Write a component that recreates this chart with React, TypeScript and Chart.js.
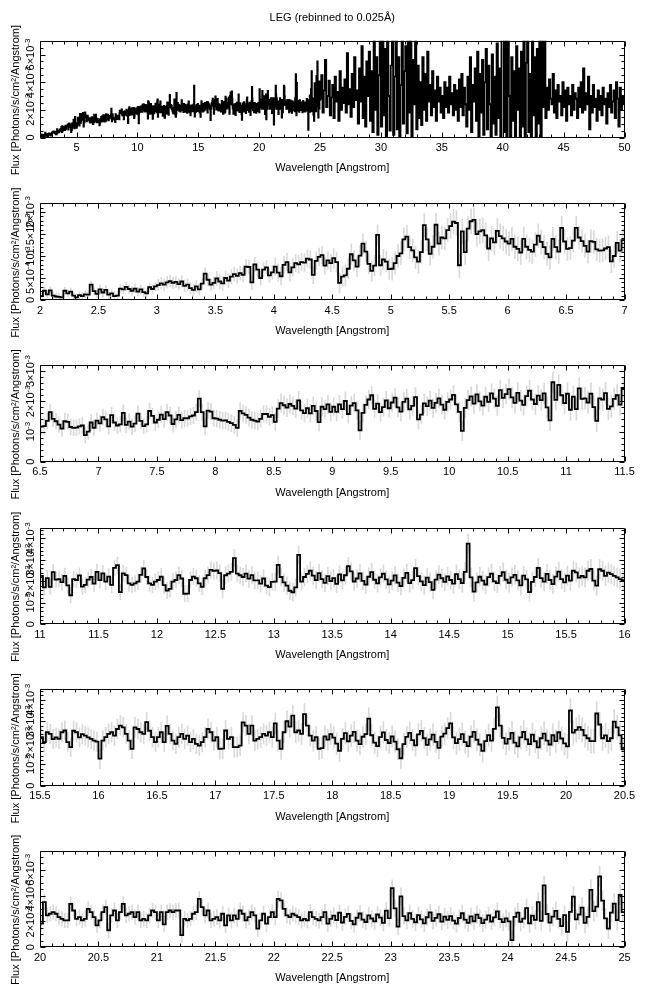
import React, { useEffect, useRef } from "react";
import { Chart, registerables } from "chart.js";
Chart.register(...registerables);

const TITLE = "LEG (rebinned to 0.025Å)";
const X_TITLE = "Wavelength [Angstrom]";
const Y_TITLE = "Flux [Photons/s/cm²/Angstrom]";
const FONT = '"Liberation Sans", Arial, Helvetica, sans-serif';

// Flux in units of 1e-4 photons/s/cm^2/Angstrom, 0.025 Angstrom bins starting at 2.0
const BIN_WIDTH = 0.025;
const FLUX_START = 2.0;
const FLUX_UNIT = 1e-4;

const FLUX_2_7 = [
  0.9, 2.1, 1.3, 2.2, 1.0, 0.8, 0.7, 0.6, 2.1, 1.5, 1.9, 1.0, 0.6, 1.1, 0.9, 1.3, 1.2, 3.5, 2.0, 1.4,
  2.4, 1.7, 2.3, 1.2, 1.5, 0.9, 1.0, 2.6, 2.4, 3.0, 2.5, 2.1, 2.6, 1.9, 2.4, 1.8, 1.5, 2.9, 2.5, 3.1,
  3.4, 3.8, 3.5, 4.0, 4.3, 3.9, 4.1, 3.6, 4.2, 3.2, 3.5, 2.7, 2.3, 3.1, 2.4, 3.7, 6.0, 4.6, 3.5, 3.9,
  4.9, 4.2, 3.8, 5.0, 4.4, 5.3, 5.9, 5.5, 6.1, 5.7, 7.6, 7.5, 4.0, 8.1, 6.9, 5.0, 6.9, 7.4, 5.6, 6.3,
  7.6, 6.2, 5.4, 8.0, 8.6, 6.3, 7.4, 8.4, 8.1, 8.6, 8.5, 9.4, 9.2, 5.7, 8.9, 9.8, 10.2, 7.8, 9.0, 8.4,
  9.5, 8.6, 3.9, 5.3, 5.6, 7.1, 10.4, 9.0, 7.6, 10.1, 12.8, 11.0, 8.2, 6.6, 7.8, 14.8, 7.9, 9.2, 8.7, 7.0,
  7.1, 8.4, 10.0, 10.6, 13.8, 14.4, 12.0, 11.3, 9.7, 8.7, 10.9, 17.0, 13.8, 10.5, 12.1, 17.1, 12.8, 14.2, 14.0, 15.9,
  16.8, 17.8, 17.5, 7.9, 15.6, 10.9, 16.2, 17.9, 18.2, 15.0, 15.6, 15.9, 14.7, 11.7, 14.0, 13.1, 15.7, 14.5, 14.0, 13.3,
  12.8, 13.9, 12.1, 11.6, 10.8, 13.9, 12.1, 11.4, 11.0, 12.6, 14.6, 13.2, 12.0, 10.5, 9.7, 13.9, 12.0, 11.0, 16.4, 13.3,
  11.6, 11.8, 13.5, 16.4, 14.2, 13.4, 12.3, 11.0, 13.4, 13.2, 11.5, 11.2, 11.3, 11.7, 12.0, 8.8, 10.0, 13.0, 11.2, 13.6,
];
const FLUX_7_12 = [
  12.7, 14.8, 14.0, 11.7, 15.4, 13.0, 12.0, 12.4, 16.2, 12.2, 13.3, 11.6, 12.6, 15.9, 13.5, 11.8, 12.4, 16.8, 15.2, 13.0,
  13.9, 15.6, 14.1, 16.4, 15.3, 12.5, 14.0, 15.5, 13.8, 14.4, 14.4, 15.0, 15.3, 16.4, 20.9, 16.4, 11.7, 16.9, 16.6, 14.4,
  14.3, 13.9, 13.6, 13.7, 13.2, 12.8, 12.2, 11.2, 16.8, 16.0, 15.5, 14.6, 13.9, 13.6, 13.3, 14.2, 15.8, 15.8, 14.9, 15.4,
  13.2, 17.6, 19.4, 18.7, 17.9, 19.1, 18.5, 17.6, 20.3, 17.0, 16.1, 17.7, 16.0, 18.5, 16.8, 13.1, 18.2, 17.4, 19.0, 16.5,
  18.2, 16.5, 19.0, 17.4, 20.1, 15.8, 18.6, 19.4, 17.0, 10.4, 16.2, 18.8, 20.6, 22.0, 17.5, 19.2, 16.4, 18.1, 20.3, 17.7,
  19.6, 21.2, 18.0, 16.6, 19.8, 20.9, 17.3, 18.5, 21.4, 14.0, 15.6, 19.3, 18.4, 20.2, 17.8, 19.5, 21.0, 18.9, 17.2, 19.8,
  20.6, 22.1, 19.0, 16.5, 10.2, 17.8, 20.4, 21.6, 19.2, 22.3, 20.0, 18.6, 21.5, 19.8, 22.6, 20.9, 18.5, 23.7, 21.1, 22.4,
  24.0, 21.3, 19.5, 22.8, 20.2, 18.8, 21.7, 23.5, 20.6, 19.1, 21.9, 20.4, 22.6, 18.0, 13.7, 26.3, 20.5, 25.4, 22.0, 19.4,
  22.5, 17.2, 21.5, 17.4, 24.3, 20.8, 21.0, 19.6, 22.5, 18.1, 13.5, 21.0, 20.6, 22.7, 17.5, 18.3, 20.8, 22.0, 18.9, 24.4,
  20.5, 23.7, 19.8, 22.2, 18.3, 26.2, 27.5, 15.0, 23.7, 22.9, 19.0, 18.3, 19.0, 19.8, 23.0, 26.0, 22.0, 19.0, 18.3, 19.8,
];
const FLUX_12_17 = [
  20.6, 22.2, 18.2, 15.7, 16.5, 19.8, 20.6, 22.9, 21.3, 14.2, 14.3, 20.6, 22.2, 21.4, 19.0, 17.4, 21.4, 22.9, 25.3, 24.8,
  25.0, 23.8, 16.5, 22.8, 23.6, 24.4, 30.8, 23.6, 22.8, 22.0, 23.6, 21.2, 22.9, 20.4, 20.4, 18.9, 21.3, 18.0, 17.3, 19.7,
  19.8, 27.6, 22.0, 19.5, 18.0, 15.6, 14.9, 17.2, 32.3, 19.8, 22.0, 23.4, 24.9, 22.6, 20.5, 23.8, 21.0, 19.3, 22.4, 20.1,
  21.5, 18.8, 23.2, 20.4, 22.8, 27.0, 24.6, 19.9, 21.3, 23.7, 20.2, 18.4, 22.1, 24.3, 20.7, 19.0, 21.8, 23.5, 20.9, 18.6,
  20.3, 22.7, 19.4, 17.8, 21.6, 23.9, 19.1, 20.5, 26.1, 22.4, 20.0, 18.2, 21.7, 19.6, 16.0, 20.8, 23.1, 21.4, 19.7, 22.3,
  20.6, 18.9, 23.3, 21.0, 19.2, 24.4, 37.5, 21.8, 15.2, 19.5, 22.1, 20.3, 18.5, 21.9, 23.6, 20.0, 19.1, 22.5, 24.2, 20.7,
  19.3, 21.8, 23.0, 20.4, 18.1, 22.6, 20.9, 15.0, 19.7, 22.0, 26.2, 21.5, 19.8, 23.4, 20.6, 18.7, 22.2, 24.5, 21.0, 19.5,
  22.6, 20.3, 24.9, 24.1, 21.7, 22.5, 21.8, 24.9, 25.7, 20.3, 18.0, 25.6, 24.9, 22.5, 24.0, 23.3, 22.5, 21.8, 21.0, 20.5,
  12.6, 21.0, 22.6, 24.1, 24.9, 23.3, 26.4, 28.0, 27.2, 24.1, 21.0, 17.2, 27.2, 26.4, 24.9, 24.1, 29.6, 25.6, 22.6, 20.3,
  22.6, 24.9, 20.3, 27.9, 24.1, 21.0, 19.5, 22.6, 24.1, 21.8, 23.3, 20.3, 21.8, 19.5, 18.7, 20.3, 22.6, 26.4, 24.9, 21.0,
];
const FLUX_17_22 = [
  22.6, 17.2, 17.3, 25.7, 21.8, 22.6, 18.0, 18.0, 18.7, 29.5, 28.0, 24.1, 28.0, 21.0, 21.8, 22.6, 24.1, 23.3, 24.9, 22.6,
  29.0, 21.0, 17.2, 24.9, 30.0, 27.5, 32.6, 24.9, 25.7, 24.1, 33.3, 28.0, 23.3, 21.0, 22.6, 17.2, 17.5, 23.0, 21.5, 24.0,
  22.4, 19.6, 16.3, 21.8, 24.5, 20.7, 23.3, 25.1, 21.0, 19.4, 22.8, 24.0, 31.2, 23.5, 20.1, 18.4, 22.6, 24.8, 21.3, 19.9,
  23.0, 20.5, 17.0, 12.8, 19.4, 22.7, 24.6, 21.2, 18.8, 23.9, 25.5, 22.1, 19.0, 21.6, 23.8, 20.4, 17.6, 22.9, 24.3, 26.8,
  29.0, 22.5, 19.8, 21.7, 24.0, 20.3, 18.5, 22.8, 25.1, 21.4, 19.2, 16.2, 20.8, 23.6, 21.0, 26.5, 36.5, 28.0, 22.3, 19.6,
  21.8, 24.6, 20.1, 18.3, 22.5, 25.0, 21.6, 19.4, 23.8, 20.7, 17.9, 22.1, 24.3, 21.0, 19.2, 23.5, 20.8, 24.9, 22.0, 19.7,
  18.3, 35.0, 24.7, 26.0, 27.3, 26.0, 23.4, 22.1, 20.8, 20.8, 33.6, 28.5, 22.1, 23.4, 20.8, 22.1, 29.8, 27.2, 23.4, 17.0,
  20.8, 27.2, 31.1, 13.2, 24.7, 28.5, 20.8, 27.2, 33.6, 24.7, 26.0, 27.2, 23.4, 27.2, 20.8, 22.1, 20.8, 24.7, 28.5, 27.2,
  20.8, 27.2, 17.7, 27.2, 28.5, 27.2, 28.5, 28.5, 9.4, 22.1, 20.8, 22.1, 26.0, 27.2, 37.5, 31.1, 24.7, 28.5, 20.8, 22.1,
  23.4, 20.8, 26.0, 17.0, 24.7, 20.8, 24.7, 22.1, 28.5, 26.0, 20.8, 23.4, 27.2, 24.7, 14.4, 20.8, 26.0, 18.3, 23.4, 27.2,
];
const FLUX_22_25 = [
  23.4, 37.5, 36.4, 29.8, 24.7, 23.4, 26.0, 24.7, 23.4, 20.8, 22.1, 20.8, 27.2, 23.4, 22.1, 20.8, 23.4, 27.2, 18.3, 22.0,
  24.5, 21.0, 26.8, 19.2, 23.6, 25.9, 20.4, 17.8, 22.9, 26.2, 21.5, 19.6, 24.8, 22.3, 20.1, 25.4, 23.0, 18.9, 28.4, 22.6,
  45.8, 30.2, 16.0, 39.5, 24.2, 20.8, 26.5, 22.1, 19.4, 24.9, 21.7, 18.6, 23.3, 27.0, 20.5, 22.8, 25.6, 19.9, 23.7, 21.2,
  24.1, 20.6, 18.3, 22.7, 26.4, 21.5, 19.0, 23.9, 20.2, 25.3, 22.6, 18.8, 21.4, 24.7, 20.0, 23.2, 27.8, 21.9, 19.5, 22.4,
  20.1, 5.6, 23.5, 26.9, 19.8, 22.2, 30.4, 18.5, 24.6, 21.3, 35.0, 20.4, 48.0, 25.8, 19.1, 23.7, 28.2, 22.0, 16.4, 24.9,
  12.0, 27.5, 39.2, 21.6, 25.4, 30.8, 19.0, 23.6, 44.5, 28.1, 31.5, 55.0, 36.2, 22.4, 14.5, 26.8, 33.9, 21.0, 40.6, 27.3,
];

// 1-sigma errors (1e-4 units), one estimate per 0.5 Angstrom from 2.0 to 25.0
const ERR_STEP = 0.5;
const ERR_BY_HALF_ANGSTROM = [
  0.8, 1.0, 1.3, 1.6, 2.0, 2.3, 2.6, 2.8, 2.7, 2.6,
  2.6, 2.7, 2.8, 3.0, 3.0, 3.1, 3.2, 3.4, 3.6, 3.7,
  3.8, 4.0, 4.1, 4.1, 4.2, 4.4, 4.4, 4.5, 4.6, 4.6,
  4.7, 4.9, 5.0, 5.0, 5.2, 5.3, 5.6, 5.7, 5.8, 5.9,
  6.0, 6.2, 6.5, 6.6, 7.2, 7.8,
];

// Overview panel beyond 25 Angstrom (1e-4 units, read at 0.1 Angstrom resolution)
const WIDE_START = 25.0;
const WIDE_BIN = 0.1;
const FLUX_WIDE_25_50 = [
  28, 45, 18, 34, 56, 22, 30, 41, 16, 29,
  38, 14, 44, 26, 33, 12, 48, 20, 36, 25,
  42, 18, 61, 24, 35, 15, 46, 22, 58, 27,
  34, 10, 50, 26, 66, 14, 44, 8, 55, 30,
  62, 12, 48, 4, 74, 20, 58, 2, 45, 72,
  8, 78, 16, 64, 0, 80, 30, 5, 52, 76,
  2, 44, 70, 6, 58, 0, 38, 75, 10, 48,
  66, 3, 80, 18, 74, 0, 56, 24, 70, 6,
  52, 14, 40, 9, 58, 20, 46, 12, 62, 26,
  38, 16, 48, 22, 34, 12, 44, 26, 36, 18,
  30, 14, 40, 22, 36, 18, 44, 24, 32, 16,
  38, 20, 34, 12, 42, 22, 46, 16, 36, 24,
  8, 44, 20, 58, 4, 38, 26, 50, 12, 62,
  0, 46, 18, 56, 2, 40, 64, 6, 52, 24,
  0, 60, 10, 44, 2, 68, 14, 50, 0, 74,
  80, 4, 76, 0, 72, 30, 0, 58, 12, 48,
  0, 66, 20, 50, 0, 62, 8, 78, 0, 54,
  74, 4, 46, 0, 72, 16, 58, 0, 64, 10,
  76, 0, 80, 22, 70, 14, 36, 20, 42, 28,
  24, 46, 18, 34, 14, 38, 26, 30, 16, 40,
  22, 34, 12, 36, 24, 30, 16, 38, 20, 32,
  28, 14, 36, 22, 40, 18, 50, 20, 32, 24,
  44, 6, 30, 18, 38, 22, 28, 12, 34, 20,
  30, 16, 36, 24, 28, 10, 32, 22, 38, 18,
  26, 34, 14, 40, 28, 8, 36, 20, 30, 24,
];

// Panel axes
const PANEL_X_MIN = [2, 2, 6.5, 11, 15.5, 20];
const PANEL_X_MAX = [50, 7, 11.5, 16, 20.5, 25];
const PANEL_X_STEP = [5, 0.5, 0.5, 0.5, 0.5, 0.5];
const PANEL_X_MINOR = [5, 5, 5, 5, 5, 5];
const PANEL_Y_MAX = [7e-3, 2.2e-3, 3.2e-3, 4.5e-3, 4.5e-3, 7.5e-3];
const PANEL_Y_STEP = [2e-3, 5e-4, 1e-3, 1e-3, 1e-3, 2e-3];
const PANEL_Y_MINOR = [4, 5, 5, 5, 5, 4];

// Layout
const CANVAS_W = 646;
const PLOT_LEFT = 40;
const PLOT_RIGHT = 624.5;
const PLOT_H = 96.8;
const PLOT_TOPS = [40.7, 203.2, 365, 527.5, 689, 850.5];
const X_AXIS_H = 40;

const FLUX = [...FLUX_2_7, ...FLUX_7_12, ...FLUX_12_17, ...FLUX_17_22, ...FLUX_22_25];

const edge = (i: number) => Math.round((FLUX_START + i * BIN_WIDTH) * 1000) / 1000;

function linePoints(idx: number) {
  const xmin = PANEL_X_MIN[idx];
  const xmax = PANEL_X_MAX[idx];
  const pts: { x: number; y: number }[] = [];
  let last = 0;
  for (let i = 0; i < FLUX.length; i++) {
    const x = edge(i);
    if (x < xmin - 1e-9 || x > xmax - BIN_WIDTH + 1e-9) continue;
    pts.push({ x, y: FLUX[i] * FLUX_UNIT });
    last = FLUX[i];
  }
  if (idx === 0) {
    for (let j = 0; j < FLUX_WIDE_25_50.length; j++) {
      const x = Math.round((WIDE_START + j * WIDE_BIN) * 1000) / 1000;
      pts.push({ x, y: FLUX_WIDE_25_50[j] * FLUX_UNIT });
      last = FLUX_WIDE_25_50[j];
    }
  }
  pts.push({ x: xmax, y: last * FLUX_UNIT });
  return pts;
}

function errorPoints(idx: number) {
  const xmin = PANEL_X_MIN[idx];
  const xmax = PANEL_X_MAX[idx];
  const pts: { x: number; y: number[] }[] = [];
  for (let i = 0; i < FLUX.length; i++) {
    const x = edge(i);
    if (x < xmin - 1e-9 || x > xmax - BIN_WIDTH + 1e-9) continue;
    const e = ERR_BY_HALF_ANGSTROM[Math.min(ERR_BY_HALF_ANGSTROM.length - 1, Math.floor((x - FLUX_START) / ERR_STEP + 1e-9))];
    pts.push({ x: x + BIN_WIDTH / 2, y: [(FLUX[i] - e) * FLUX_UNIT, (FLUX[i] + e) * FLUX_UNIT] });
  }
  return pts;
}

function fmtX(v: number) {
  return String(+v.toFixed(3));
}

function sciParts(v: number): [string, string] {
  if (Math.abs(v) < 1e-12) return ["0", ""];
  const e = Math.floor(Math.log10(v) + 1e-9);
  const m = +(v / Math.pow(10, e)).toFixed(2);
  const base = m === 1 ? "10" : `${m}×10`;
  return [base, String(e)];
}

function drawRotated(ctx: CanvasRenderingContext2D, cx: number, cy: number, base: string, exp: string, size: number) {
  ctx.save();
  ctx.translate(cx, cy);
  ctx.rotate(-Math.PI / 2);
  ctx.textAlign = "left";
  ctx.textBaseline = "alphabetic";
  ctx.font = `${size}px ${FONT}`;
  const wb = ctx.measureText(base).width;
  ctx.font = `${Math.round(size * 0.72)}px ${FONT}`;
  const we = exp ? ctx.measureText(exp).width : 0;
  const start = -(wb + we) / 2;
  ctx.font = `${size}px ${FONT}`;
  ctx.fillText(base, start, 4);
  if (exp) {
    ctx.font = `${Math.round(size * 0.72)}px ${FONT}`;
    ctx.fillText(exp, start + wb, -0.5);
  }
  ctx.restore();
}

function makeDecor(idx: number) {
  return {
    id: "decor" + idx,
    afterDraw(chart: any) {
      const { ctx, chartArea: a, scales } = chart;
      const xs = scales.x;
      const ys = scales.y;
      const L = Math.round(a.left) + 0.5;
      const R = Math.round(a.right) - 0.5;
      const T = Math.round(a.top) + 0.5;
      const B = Math.round(a.bottom) - 0.5;
      ctx.save();
      ctx.strokeStyle = "#000";
      ctx.lineWidth = 1;
      ctx.beginPath();
      ctx.rect(L, T, R - L, B - T);
      ctx.stroke();

      // x ticks
      const xmin = PANEL_X_MIN[idx], xmax = PANEL_X_MAX[idx];
      const xnm = PANEL_X_MINOR[idx];
      const xms = PANEL_X_STEP[idx] / xnm;
      ctx.beginPath();
      for (let k = Math.ceil(xmin / xms - 1e-6); k <= Math.floor(xmax / xms + 1e-6); k++) {
        const len = k % xnm === 0 ? 5 : 3;
        const px = Math.round(xs.getPixelForValue(k * xms)) + 0.5;
        ctx.moveTo(px, B);
        ctx.lineTo(px, B - len);
        ctx.moveTo(px, T);
        ctx.lineTo(px, T + len);
      }
      // y ticks
      const ymax = PANEL_Y_MAX[idx];
      const ynm = PANEL_Y_MINOR[idx];
      const yms = PANEL_Y_STEP[idx] / ynm;
      for (let k = 0; k <= Math.floor(ymax / yms + 1e-6); k++) {
        const len = k % ynm === 0 ? 5 : 3;
        const py = Math.round(ys.getPixelForValue(k * yms)) + 0.5;
        ctx.moveTo(L, py);
        ctx.lineTo(L + len, py);
        ctx.moveTo(R, py);
        ctx.lineTo(R - len, py);
      }
      ctx.stroke();

      // y tick labels (rotated)
      ctx.fillStyle = "#000";
      const ystep = PANEL_Y_STEP[idx];
      for (let k = 0; k * ystep <= ymax + 1e-12; k++) {
        const v = k * ystep;
        const [b, e] = sciParts(v);
        drawRotated(ctx, a.left - 10, ys.getPixelForValue(v), b, e, 11);
      }
      // y title
      drawRotated(ctx, 15, (a.top + a.bottom) / 2 + 11, Y_TITLE, "", 11);

      if (idx === 0) {
        ctx.font = `11px ${FONT}`;
        ctx.textAlign = "center";
        ctx.textBaseline = "middle";
        ctx.fillText(TITLE, (a.left + a.right) / 2, 18);
      }
      ctx.restore();
    },
  };
}

function Panel({ idx }: { idx: number }) {
  const ref = useRef<HTMLCanvasElement>(null);
  const top = PLOT_TOPS[idx];
  const canvasTop = idx === 0 ? 0 : Math.floor(top) - 30;
  const padTop = top - canvasTop;
  const canvasH = Math.ceil(padTop + PLOT_H + X_AXIS_H + 4);
  const padBottom = canvasH - padTop - PLOT_H - X_AXIS_H;

  useEffect(() => {
    if (!ref.current) return;
    const xmin = PANEL_X_MIN[idx];
    const xmax = PANEL_X_MAX[idx];
    const xstep = PANEL_X_STEP[idx];
    const majors: number[] = [];
    for (let k = Math.ceil(xmin / xstep - 1e-6); k <= Math.floor(xmax / xstep + 1e-6); k++) majors.push(+(k * xstep).toFixed(3));

    const datasets: any[] = [
      {
        type: "line",
        data: linePoints(idx),
        borderColor: "#000",
        borderWidth: idx === 0 ? 1.9 : 1.8,
        pointRadius: 0,
        stepped: "before",
        fill: false,
        tension: 0,
        order: 0,
      },
    ];
    if (idx > 0) {
      datasets.push({
        type: "bar",
        data: errorPoints(idx),
        backgroundColor: "#d9d9d9",
        borderWidth: 0,
        barThickness: 1,
        grouped: false,
        order: 1,
      });
    }

    const chart = new Chart(ref.current, {
      type: "line",
      data: { datasets },
      options: {
        responsive: false,
        animation: false,
        devicePixelRatio: 1,
        events: [],
        layout: { padding: { left: PLOT_LEFT, right: CANVAS_W - PLOT_RIGHT, top: padTop, bottom: padBottom } },
        plugins: { legend: { display: false }, tooltip: { enabled: false }, title: { display: false } },
        scales: {
          x: {
            type: "linear",
            min: xmin,
            max: xmax,
            offset: false,
            grid: { display: false, drawTicks: false, offset: false },
            border: { display: false },
            ticks: {
              autoSkip: false,
              maxRotation: 0,
              minRotation: 0,
              padding: 4,
              color: "#000",
              font: { family: FONT, size: 11 },
              callback: (v: any) => fmtX(Number(v)),
            },
            afterBuildTicks: (s: any) => {
              s.ticks = majors.map((v) => ({ value: v }));
            },
            afterFit: (s: any) => {
              s.height = X_AXIS_H;
            },
            title: {
              display: true,
              text: X_TITLE,
              color: "#000",
              font: { family: FONT, size: 11 },
              padding: { top: 0, bottom: 2.7 },
            },
          },
          y: { type: "linear", min: 0, max: PANEL_Y_MAX[idx], display: false },
        },
      } as any,
      plugins: [makeDecor(idx)],
    });
    return () => chart.destroy();
  }, [idx]);

  return (
    <canvas
      ref={ref}
      width={CANVAS_W}
      height={canvasH}
      style={{ position: "absolute", left: 0, top: canvasTop, width: CANVAS_W, height: canvasH }}
    />
  );
}

export default function App() {
  return (
    <div style={{ position: "absolute", left: 0, top: 0, width: 646, height: 995, background: "#fff", overflow: "hidden" }}>
      {[0, 1, 2, 3, 4, 5].map((i) => (
        <Panel key={i} idx={i} />
      ))}
    </div>
  );
}
